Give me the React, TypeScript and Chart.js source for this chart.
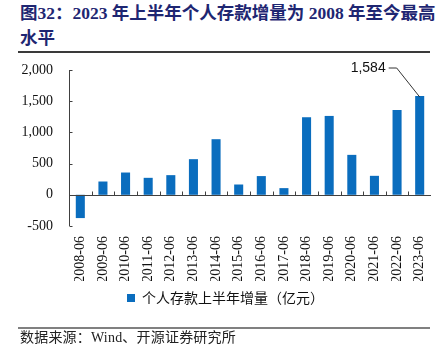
import React, { useEffect, useRef } from "react";
import { Chart, registerables } from "chart.js";

Chart.register(...registerables);

const categories = [
  "2008-06", "2009-06", "2010-06", "2011-06", "2012-06", "2013-06", "2014-06", "2015-06",
  "2016-06", "2017-06", "2018-06", "2019-06", "2020-06", "2021-06", "2022-06", "2023-06",
];
const values = [-373, 213, 357, 272, 315, 571, 891, 165, 300, 107, 1243, 1264, 640, 304, 1360, 1584];
const seriesName = "个人存款上半年增量（亿元）";
const yTicks = [-500, 0, 500, 1000, 1500, 2000];
const highlightIndex = 15;
const highlightLabel = "1,584";
const titleLine1 = "图32：2023 年上半年个人存款增量为 2008 年至今最高";
const titleLine2 = "水平";
const sourceText = "数据来源：Wind、开源证券研究所";

const BAR_COLOR = "#0A6DBE";
const AXIS_COLOR = "#404040";

const axisPlugin = {
  id: "axisLines",
  afterDatasetsDraw(chart: any) {
    const { ctx, chartArea, scales } = chart;
    const y = scales.y;
    const x = scales.x;
    const line = (x1: number, y1: number, x2: number, y2: number) => {
      ctx.beginPath();
      ctx.moveTo(x1, y1);
      ctx.lineTo(x2, y2);
      ctx.stroke();
    };
    ctx.save();
    ctx.strokeStyle = AXIS_COLOR;
    ctx.lineWidth = 1;
    const ax = Math.round(chartArea.left) + 0.5;
    const yMax = y.getPixelForValue(yTicks[yTicks.length - 1]);
    const yMin = y.getPixelForValue(yTicks[0]);
    line(ax, yMax, ax, yMin);
    yTicks.forEach((v) => {
      const py = Math.round(y.getPixelForValue(v)) + 0.5;
      line(ax, py, ax + 3, py);
    });
    const zy = Math.round(y.getPixelForValue(0)) + 0.5;
    line(chartArea.left, zy, chartArea.right, zy);
    for (let i = 1; i < categories.length; i++) {
      const px = Math.round((x.getPixelForValue(i - 1) + x.getPixelForValue(i)) / 2) + 0.5;
      line(px, zy, px, zy - 4);
    }

    // annotation for highlighted bar
    const bar = chart.getDatasetMeta(0).data[highlightIndex];
    if (bar) {
      const ty = y.getPixelForValue(yTicks[yTicks.length - 1]) - 2;
      const tx = bar.x - 34;
      ctx.lineWidth = 1;
      ctx.strokeStyle = "#333";
      ctx.beginPath();
      ctx.moveTo(tx + 3, ty);
      ctx.lineTo(tx + 11, ty);
      ctx.lineTo(bar.x, bar.y + 1);
      ctx.stroke();
      ctx.fillStyle = "#111";
      ctx.font = '14px "Liberation Sans", Arial, sans-serif';
      ctx.textAlign = "right";
      ctx.textBaseline = "middle";
      ctx.fillText(highlightLabel, tx, ty);
    }
    ctx.restore();
  },
};

export default function App() {
  const canvasRef = useRef<HTMLCanvasElement | null>(null);

  useEffect(() => {
    if (!canvasRef.current) return;
    const chart = new Chart(canvasRef.current, {
      type: "bar",
      data: {
        labels: categories,
        datasets: [
          {
            label: seriesName,
            data: values,
            backgroundColor: BAR_COLOR,
            borderWidth: 0,
            categoryPercentage: 1,
            barPercentage: 0.4,
          },
        ],
      },
      options: {
        animation: false,
        responsive: false,
        devicePixelRatio: 1,
        layout: { padding: { top: 70, left: 20, right: 17, bottom: 34 } },
        plugins: {
          legend: {
            position: "bottom",
            labels: {
              boxWidth: 8,
              boxHeight: 8,
              padding: 10,
              color: "#111",
              font: { size: 14, family: '"Noto Sans CJK SC", sans-serif' },
            },
          },
          tooltip: { enabled: false },
        },
        scales: {
          x: {
            grid: { display: false, drawTicks: false },
            border: { display: false },
            ticks: {
              minRotation: 90,
              maxRotation: 90,
              autoSkip: false,
              padding: 10,
              color: "#111",
              font: { size: 14, family: '"Liberation Serif", "Times New Roman", serif' },
            },
            afterFit: (scale: any) => {
              scale.height = 55;
            },
          },
          y: {
            min: yTicks[0],
            max: yTicks[yTicks.length - 1],
            grid: { display: false, drawTicks: false },
            border: { display: false },
            ticks: {
              stepSize: 500,
              padding: 16,
              color: "#111",
              font: { size: 14, family: '"Liberation Serif", "Times New Roman", serif' },
              callback: (v: any) => Number(v).toLocaleString("en-US"),
            },
            afterFit: (scale: any) => {
              scale.width = 49;
            },
          },
        },
      },
      plugins: [axisPlugin],
    });
    return () => chart.destroy();
  }, []);

  return (
    <div
      style={{
        position: "fixed",
        left: 0,
        top: 0,
        width: 448,
        height: 349,
        background: "#fff",
        overflow: "hidden",
      }}
    >
      <div
        style={{
          position: "absolute",
          left: 20,
          top: 1,
          font: 'bold 17.5px/24.5px "Liberation Serif", "Noto Sans CJK SC", serif',
          color: "#1E2672",
          whiteSpace: "nowrap",
        }}
      >
        {titleLine1}
        <br />
        {titleLine2}
      </div>
      <div
        style={{
          position: "absolute",
          left: 18,
          top: 51,
          width: 412,
          height: 2,
          background: "#3a3a3a",
        }}
      />
      <canvas
        ref={canvasRef}
        width={448}
        height={349}
        style={{ position: "absolute", left: 0, top: 0, width: 448, height: 349 }}
      />
      <div
        style={{
          position: "absolute",
          left: 18,
          top: 327,
          width: 412,
          height: 2,
          background: "#808080",
        }}
      />
      <div
        style={{
          position: "absolute",
          left: 20,
          top: 330,
          font: '14px/16px "Liberation Serif", "Noto Sans CJK SC", serif',
          letterSpacing: "0.2px",
          color: "#222",
          whiteSpace: "nowrap",
        }}
      >
        {sourceText}
      </div>
    </div>
  );
}
